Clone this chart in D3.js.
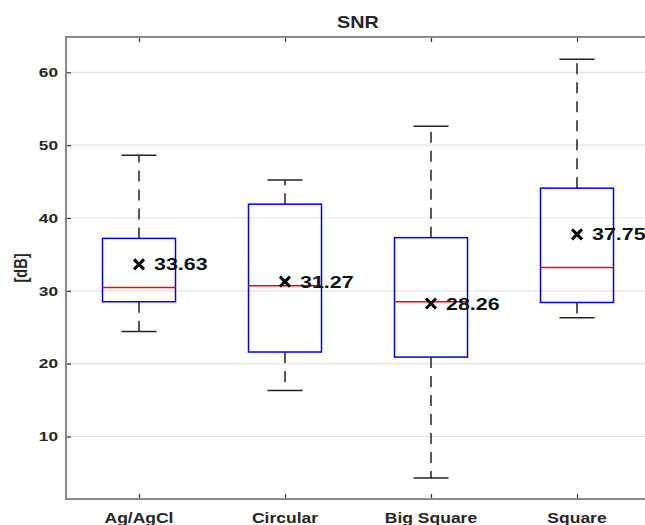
<!DOCTYPE html>
<html>
<head>
<meta charset="utf-8">
<script src="https://cdn.jsdelivr.net/npm/d3@7/dist/d3.min.js"></script>
<style>
  html, body { margin: 0; padding: 0; background: #fff; overflow: hidden; }
  svg { display: block; }
  text { font-family: "Liberation Sans", Arial, Helvetica, sans-serif; font-weight: bold; fill: #262626; }
</style>
</head>
<body>
<svg id="chart" width="645" height="525"></svg>
<script>
// ---- data ----
const categories = ["Ag/AgCl", "Circular", "Big Square", "Square"];
const whiskerLow  = [24.4, 16.3, 4.3, 26.3];
const q1          = [28.5, 21.6, 20.9, 28.4];
const medians     = [30.45, 30.7, 28.5, 33.2];
const q3          = [37.2, 41.9, 37.3, 44.1];
const whiskerHigh = [48.6, 45.2, 52.6, 61.8];
const means       = [33.63, 31.27, 28.26, 37.75];
const yTicks      = [10, 20, 30, 40, 50, 60];
const yDomain     = [1.42, 64.85];
const titleText   = "SNR";
const yLabelText  = "[dB]";

// ---- layout ----
const L = 66, R = 650, T = 37, B = 499;
const SX = 1.28; // horizontal stretch of text in reference

const svg = d3.select("#chart");
const x = d3.scalePoint().domain(categories).range([L, R]).padding(0.5);
const y = d3.scaleLinear().domain(yDomain).range([B, T]);
const step = x.step();
const boxHalf = step * 0.25;
const capHalf = boxHalf * 0.48;

function stretchedText(g, tx, ty, str, size, anchor, sx) {
  return g.append("text")
    .attr("transform", `translate(${tx},${ty}) scale(${sx || SX},1)`)
    .attr("text-anchor", anchor)
    .style("font-size", size + "px")
    .text(str);
}

// grid
svg.append("g").selectAll("line").data(yTicks).join("line")
  .attr("x1", L).attr("x2", R)
  .attr("y1", d => y(d)).attr("y2", d => y(d))
  .attr("stroke", "#e3e3e3").attr("stroke-width", 1.2);

// y axis ticks (inward) left and right
function styleAxis(g) {
  g.select(".domain").remove();
  g.selectAll(".tick line").attr("stroke", "#333").attr("stroke-width", 1.2);
}
svg.append("g").attr("transform", `translate(${L},0)`)
  .call(d3.axisLeft(y).tickValues(yTicks).tickSizeInner(-5).tickSizeOuter(0).tickFormat("")).call(styleAxis);
svg.append("g").attr("transform", `translate(${R},0)`)
  .call(d3.axisRight(y).tickValues(yTicks).tickSizeInner(-5).tickSizeOuter(0).tickFormat("")).call(styleAxis);

// x ticks bottom and top
svg.append("g").attr("transform", `translate(0,${B})`)
  .call(d3.axisBottom(x).tickSizeInner(-5).tickSizeOuter(0).tickFormat("")).call(styleAxis);
svg.append("g").attr("transform", `translate(0,${T})`)
  .call(d3.axisTop(x).tickSizeInner(-5).tickSizeOuter(0).tickFormat("")).call(styleAxis);

// frame
svg.append("rect").attr("x", L).attr("y", T).attr("width", R - L).attr("height", B - T)
  .attr("fill", "none").attr("stroke", "#8a8a8a").attr("stroke-width", 2);

// tick labels
const gl = svg.append("g");
yTicks.forEach(v => stretchedText(gl, L - 8, y(v) + 4.8, String(v), 13.5, "end"));
categories.forEach(c => stretchedText(gl, x(c), 523, c, 14, "middle", 1.25));

// title and y label
stretchedText(svg, (L + R) / 2, 27.5, titleText, 16.5, "middle", 1.2);
svg.append("text")
  .attr("transform", `translate(27,${(T + B) / 2}) rotate(-90) scale(1,${SX})`)
  .attr("text-anchor", "middle").style("font-size", "14.5px").text(yLabelText);

// boxes
const boxes = svg.append("g").selectAll("g").data(categories).join("g");
// whiskers (dashed)
boxes.append("line")
  .attr("x1", c => x(c)).attr("x2", c => x(c))
  .attr("y1", (c, i) => y(q3[i])).attr("y2", (c, i) => y(whiskerHigh[i]))
  .attr("stroke", "#222").attr("stroke-width", 1.5).attr("stroke-dasharray", "11,8");
boxes.append("line")
  .attr("x1", c => x(c)).attr("x2", c => x(c))
  .attr("y1", (c, i) => y(q1[i])).attr("y2", (c, i) => y(whiskerLow[i]))
  .attr("stroke", "#222").attr("stroke-width", 1.5).attr("stroke-dasharray", "11,8");
// caps
boxes.append("line")
  .attr("x1", c => x(c) - capHalf).attr("x2", c => x(c) + capHalf)
  .attr("y1", (c, i) => y(whiskerHigh[i])).attr("y2", (c, i) => y(whiskerHigh[i]))
  .attr("stroke", "#222").attr("stroke-width", 1.5);
boxes.append("line")
  .attr("x1", c => x(c) - capHalf).attr("x2", c => x(c) + capHalf)
  .attr("y1", (c, i) => y(whiskerLow[i])).attr("y2", (c, i) => y(whiskerLow[i]))
  .attr("stroke", "#222").attr("stroke-width", 1.5);
// box
boxes.append("rect")
  .attr("x", c => x(c) - boxHalf).attr("width", boxHalf * 2)
  .attr("y", (c, i) => y(q3[i])).attr("height", (c, i) => y(q1[i]) - y(q3[i]))
  .attr("fill", "none").attr("stroke", "#0000ff").attr("stroke-width", 1.5);
// median
boxes.append("line")
  .attr("x1", c => x(c) - boxHalf).attr("x2", c => x(c) + boxHalf)
  .attr("y1", (c, i) => y(medians[i])).attr("y2", (c, i) => y(medians[i]))
  .attr("stroke", "#ff0000").attr("stroke-width", 1.5);
// mean marker
boxes.append("path")
  .attr("d", (c, i) => {
    const cx = x(c), cy = y(means[i]), s = 5;
    return `M${cx - s},${cy - s}L${cx + s},${cy + s}M${cx - s},${cy + s}L${cx + s},${cy - s}`;
  })
  .attr("stroke", "#000").attr("stroke-width", 3);
// mean labels
boxes.each(function (c, i) {
  stretchedText(d3.select(this), x(c) + 15, y(means[i]) + 6, means[i].toFixed(2), 16.5, "start", 1.3)
    .style("fill", "#111");
});
</script>
</body>
</html>
